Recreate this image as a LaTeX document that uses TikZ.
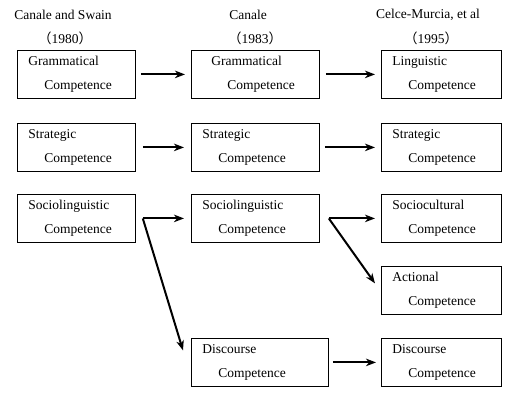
\documentclass[tikz,border=0pt]{standalone}
\usepackage{fontspec}
\setmainfont{Liberation Serif}
\newfontfamily\cjk{Noto Sans CJK SC}
\usetikzlibrary{arrows.meta}

\tikzset{
  compbox/.style={draw, line width=0.8pt, rectangle, anchor=north west,
    minimum height=48pt, inner xsep=11pt, inner ysep=0pt, align=left,
    font=\rmfamily\fontsize{13.5}{24}\selectfont},
  head/.style={font=\rmfamily\fontsize{13.5}{16}\selectfont},
  arr/.style={line width=2pt, -{Stealth[length=10pt,width=7.5pt,inset=3pt]}}
}
\newcommand{\twoline}[1]{#1\\\hspace*{16pt}Competence}
\newcommand{\yr}[1]{{\cjk （}#1{\cjk ）}}

\begin{document}
\begin{tikzpicture}[x=1pt,y=-1pt]
  \useasboundingbox (0,0) rectangle (526,400);
  % headings
  \node[head] (auth1) at (63,15) {Canale and Swain};
  \node[head] (year1) at (65,38) {\yr{1980}};
  \node[head] (auth2) at (248,15) {Canale};
  \node[head] (year2) at (255,38) {\yr{1983}};
  \node[head] (auth3) at (428,15) {Celce-Murcia, et al};
  \node[head] (year3) at (431,38) {\yr{1995}};

  % 1980
  \node[compbox, text width=96pt] (gram1) at (17,50) {\twoline{Grammatical}};
  \node[compbox, text width=96pt] (strat1) at (17,123) {\twoline{Strategic}};
  \node[compbox, text width=96pt] (soc1) at (17,194) {\twoline{Sociolinguistic}};

  % 1983
  \node[compbox, inner xsep=20pt, text width=88pt] (gram2) at (191,50) {\twoline{Grammatical}};
  \node[compbox, text width=106pt] (strat2) at (191,123) {\twoline{Strategic}};
  \node[compbox, text width=106pt] (soc2) at (191,194) {\twoline{Sociolinguistic}};
  \node[compbox, text width=115pt] (disc2) at (191,338) {\twoline{Discourse}};

  % 1995
  \node[compbox, text width=98pt] (ling3) at (381,50) {\twoline{Linguistic}};
  \node[compbox, text width=98pt] (strat3) at (381,123) {\twoline{Strategic}};
  \node[compbox, text width=98pt] (socult3) at (381,194) {\twoline{Sociocultural}};
  \node[compbox, text width=98pt] (act3) at (381,266) {\twoline{Actional}};
  \node[compbox, text width=98pt] (disc3) at (381,338) {\twoline{Discourse}};

  % arrows
  \draw[arr, shorten <=5pt, shorten >=6pt] (gram1.east) -- (gram2.west);
  \draw[arr, shorten <=6pt, shorten >=6pt] (gram2.east) -- (ling3.west);
  \draw[arr, shorten <=7pt, shorten >=7pt] (strat1.east) -- (strat2.west);
  \draw[arr, shorten <=5pt, shorten >=6pt] (strat2.east) -- (strat3.west);

  \coordinate (fork1) at ([xshift=7pt]soc1.east);
  \coordinate (fork2) at ([xshift=9pt]soc2.east);
  \coordinate (disctip) at ([xshift=-8pt,yshift=12pt]disc2.west);
  \coordinate (acttip) at ([xshift=-6pt,yshift=7pt]act3.west);
  \draw[arr, shorten >=7pt] (fork1) -- (soc2.west);
  \draw[arr] (fork1) -- (disctip);
  \draw[arr, shorten >=6pt] (fork2) -- (socult3.west);
  \draw[arr] (fork2) -- (acttip);

  \draw[arr, shorten <=4pt, shorten >=5pt] (disc2.east) -- (disc3.west);
\end{tikzpicture}
\end{document}
